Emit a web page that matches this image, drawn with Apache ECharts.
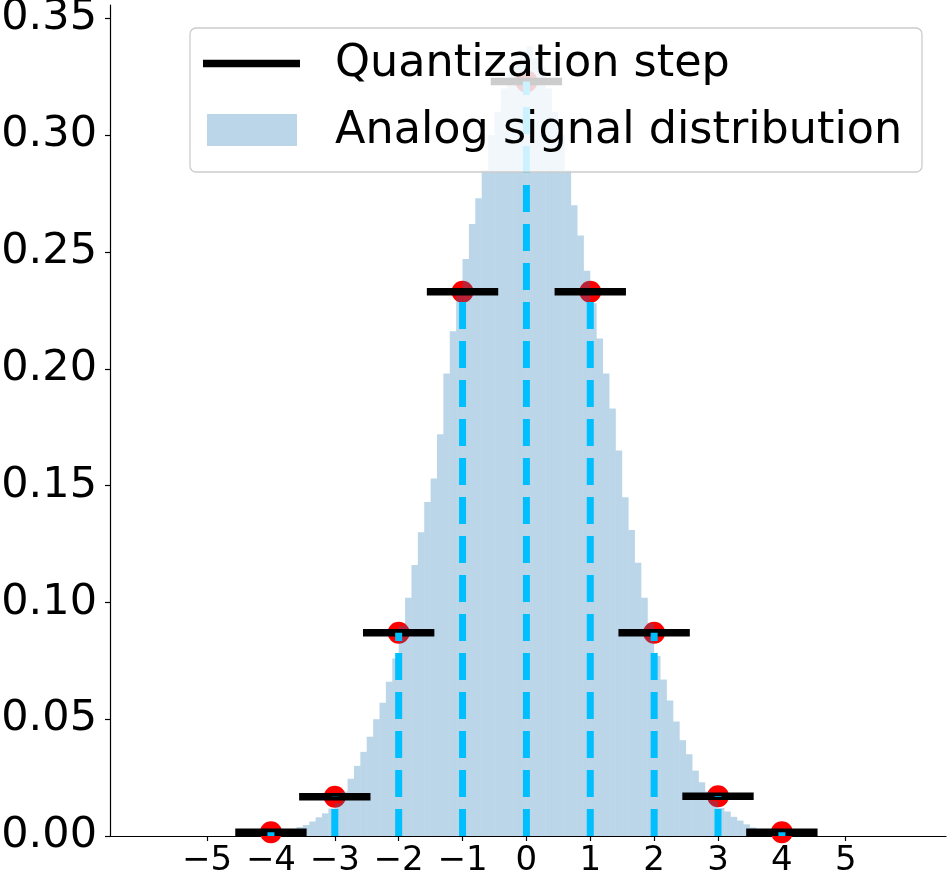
<!DOCTYPE html>
<html>
<head>
<meta charset="utf-8">
<title>Quantization of an analog signal</title>
<script src="https://cdn.jsdelivr.net/npm/echarts@6/dist/echarts.min.js"></script>
<style>
  html, body { margin: 0; padding: 0; background: #fff; }
  #chart { width: 952px; height: 883px; }
</style>
</head>
<body>
<div id="chart"></div>
<script>
// ==================== 数据 ====================

// 量化电平及其概率（红点 / 黑色横线 / 虚线竖线）
var quantLevels = [-4, -3, -2, -1, 0, 1, 2, 3, 4];
var quantProbs  = [0.0016, 0.0168, 0.087, 0.233, 0.323, 0.233, 0.087, 0.017, 0.0016];

// 模拟信号直方图：起点 -4.5，每格 0.1
var histStart = -4.5;
var histWidth = 0.1;
var histHeights = [
  0.0003, 0.0004, 0.0006, 0.0008, 0.0010, 0.0013, 0.0017, 0.0022, 0.0030, 0.0038,
  0.0047, 0.0062, 0.0080, 0.0097, 0.0118, 0.0140, 0.0190, 0.0245, 0.0300, 0.0360,
  0.0425, 0.0500, 0.0570, 0.0660, 0.0760, 0.0900, 0.1020, 0.1160, 0.1300, 0.1430,
  0.1530, 0.1720, 0.1980, 0.2160, 0.2320, 0.2470, 0.2620, 0.2730, 0.2850, 0.3000,
  0.3100, 0.3200, 0.3260, 0.3300, 0.3360, 0.3380, 0.3330, 0.3290, 0.3200, 0.3100,
  0.3000, 0.2850, 0.2700, 0.2570, 0.2420, 0.2280, 0.2130, 0.1980, 0.1830, 0.1650,
  0.1450, 0.1310, 0.1170, 0.1020, 0.0910, 0.0770, 0.0670, 0.0580, 0.0490, 0.0410,
  0.0350, 0.0280, 0.0230, 0.0190, 0.0150, 0.0120, 0.0105, 0.0082, 0.0066, 0.0050,
  0.0036, 0.0029, 0.0022, 0.0016, 0.0012, 0.0009, 0.0007, 0.0005, 0.0004, 0.0003
];

// 坐标轴刻度
var xTicks = [-5, -4, -3, -2, -1, 0, 1, 2, 3, 4, 5];
var yTicks = [0, 0.05, 0.10, 0.15, 0.20, 0.25, 0.30, 0.35];

// ==================== 绘图 ====================

var FONT = 'DejaVu Sans';
var chart = echarts.init(document.getElementById('chart'), null, { renderer: 'canvas' });

var histData = histHeights.map(function (h, i) {
  var x0 = histStart + i * histWidth;
  return [x0, x0 + histWidth, h];
});
var quantData = quantLevels.map(function (x, i) { return [x, quantProbs[i]]; });

function renderHist(params, api) {
  var p0 = api.coord([api.value(0), api.value(2)]);
  var p1 = api.coord([api.value(1), 0]);
  return {
    type: 'rect',
    shape: { x: p0[0], y: p0[1], width: p1[0] - p0[0], height: p1[1] - p0[1] },
    style: { fill: 'rgba(31,119,180,0.3)' }
  };
}

function renderStep(params, api) {
  var a = api.coord([api.value(0) - 0.5, api.value(1)]);
  var b = api.coord([api.value(0) + 0.5, api.value(1)]);
  return {
    type: 'line',
    shape: { x1: a[0], y1: a[1], x2: b[0], y2: b[1] },
    style: { stroke: '#000', lineWidth: 7.5, lineCap: 'square' }
  };
}

function renderStem(params, api) {
  var a = api.coord([api.value(0), 0]);
  var b = api.coord([api.value(0), api.value(1)]);
  return {
    type: 'line',
    shape: { x1: a[0], y1: a[1], x2: b[0], y2: b[1] },
    style: { stroke: '#00bfff', lineWidth: 7, lineDash: [27, 12], lineCap: 'butt' }
  };
}

var minus = function (v) { return String(v).replace('-', '\u2212'); };

// 图例元素统一放在最上层
function onTop(el) { el.z = 100; return el; }

chart.setOption({
  animation: false,
  backgroundColor: '#fff',
  grid: { left: 110, right: 6, top: 5, bottom: 47, outerBoundsMode: 'none' },
  xAxis: {
    type: 'value', min: -6.52, max: 6.57,
    splitLine: { show: false },
    axisLine: { onZero: false, lineStyle: { color: '#000', width: 1.2 } },
    axisTick: { customValues: xTicks, length: 5, lineStyle: { color: '#000', width: 1.2 } },
    axisLabel: {
      customValues: xTicks, formatter: minus, margin: 8,
      color: '#000', fontFamily: FONT, fontSize: 34
    }
  },
  yAxis: {
    type: 'value', min: 0, max: 0.3557,
    splitLine: { show: false },
    axisLine: { show: true, onZero: false, lineStyle: { color: '#000', width: 1.2 } },
    axisTick: { customValues: yTicks, length: 5, lineStyle: { color: '#000', width: 1.2 } },
    axisLabel: {
      customValues: yTicks, margin: 13,
      formatter: function (v) { return v.toFixed(2); },
      color: '#000', fontFamily: FONT, fontSize: 43
    }
  },
  // 叠放顺序：红点 < 直方图 < 黑色横线 < 虚线竖线
  series: [
    {
      type: 'scatter', data: quantData, symbolSize: 22, z: 1,
      itemStyle: { color: '#ff0000', opacity: 1 }
    },
    { type: 'custom', name: 'Analog signal distribution', data: histData, renderItem: renderHist, z: 2 },
    { type: 'custom', name: 'Quantization step', data: quantData, renderItem: renderStep, z: 3 },
    { type: 'custom', data: quantData, renderItem: renderStem, z: 4 }
  ],
  // 图例（半透明白底，叠在所有图形之上）
  graphic: [
    onTop({
      type: 'rect', shape: { x: 190, y: 28, width: 732, height: 144, r: 6 },
      style: { fill: 'rgba(255,255,255,0.8)', stroke: '#cccccc', lineWidth: 1.3 }
    }),
    onTop({
      type: 'line', shape: { x1: 203, y1: 63.5, x2: 300, y2: 63.5 },
      style: { stroke: '#000', lineWidth: 7.5 }
    }),
    onTop({
      type: 'rect', shape: { x: 207, y: 114, width: 90, height: 32 },
      style: { fill: 'rgba(31,119,180,0.3)' }
    }),
    onTop({
      type: 'text', x: 335, y: 64,
      style: { text: 'Quantization step', fill: '#000', font: '44.5px ' + FONT, verticalAlign: 'middle' }
    }),
    onTop({
      type: 'text', x: 335, y: 131,
      style: { text: 'Analog signal distribution', fill: '#000', font: '44.5px ' + FONT, verticalAlign: 'middle' }
    })
  ]
});

window.addEventListener('resize', function () { chart.resize(); });
</script>
</body>
</html>
